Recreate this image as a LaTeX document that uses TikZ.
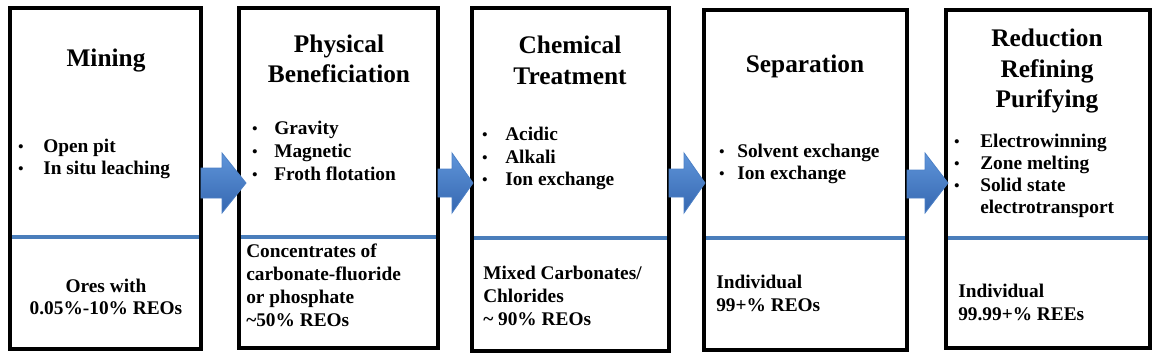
\documentclass[tikz,border=0pt]{standalone}
\usepackage{fontspec}
\setmainfont{Liberation Serif}
\begin{document}
\begin{tikzpicture}[x=0.75pt,y=-0.75pt,
  stagebox/.style={draw=black,line width=3pt},
  divider/.style={draw=divblue,line width=3pt},
  ttl/.style={anchor=base,inner sep=0pt,font=\fontsize{19}{22}\selectfont\bfseries},
  txt/.style={anchor=base west,inner sep=0pt,font=\fontsize{14.5}{17}\selectfont\bfseries},
  ctxt/.style={anchor=base,inner sep=0pt,font=\fontsize{14.5}{17}\selectfont\bfseries},
  dot/.style={anchor=base,inner sep=0pt,font=\fontsize{13}{17}\selectfont},
  blockarrow/.style={draw=arrowedge,line width=0.6pt,top color=arrowtop,bottom color=arrowbot,line join=miter}
]
\definecolor{divblue}{HTML}{4A7EBB}
\definecolor{arrowtop}{HTML}{5F95DA}
\definecolor{arrowbot}{HTML}{3567B0}
\definecolor{arrowedge}{HTML}{4C80C6}
\useasboundingbox (0,0) rectangle (1158,358);

% boxes
\coordinate (b1a) at (10,8);   \coordinate (b1b) at (201,349);
\coordinate (b2a) at (239,8);  \coordinate (b2b) at (438,348);
\coordinate (b3a) at (472,8);  \coordinate (b3b) at (669,351);
\coordinate (b4a) at (704,10); \coordinate (b4b) at (907,350);
\coordinate (b5a) at (946,10); \coordinate (b5b) at (1150,348);

\draw[divider] (10,237) -- (201,237);
\draw[divider] (239,237) -- (438,237);
\draw[divider] (472,238) -- (669,238);
\draw[divider] (704,238) -- (907,238);
\draw[divider] (946,238) -- (1150,238);

\draw[stagebox] (b1a) rectangle (b1b);
\draw[stagebox] (b2a) rectangle (b2b);
\draw[stagebox] (b3a) rectangle (b3b);
\draw[stagebox] (b4a) rectangle (b4b);
\draw[stagebox] (b5a) rectangle (b5b);

% arrows
\draw[blockarrow] (201,168) -- (222,168) -- (222,153) -- (246,183) -- (222,213) -- (222,198) -- (201,198) -- cycle;
\draw[blockarrow] (438,169) -- (452,169) -- (452,153) -- (473,183) -- (452,213) -- (452,197) -- (438,197) -- cycle;
\draw[blockarrow] (669,169) -- (684,169) -- (684,153) -- (705,183) -- (684,213) -- (684,197) -- (669,197) -- cycle;
\draw[blockarrow] (907,170) -- (925,170) -- (925,153) -- (948,183) -- (925,213) -- (925,198) -- (907,198) -- cycle;

% box 1
\node[ttl] (t1) at (106,66) {Mining};
\node[dot] (d1a) at (21,152) {\textbullet};
\node[txt] (l1a) at (43,152) {Open pit};
\node[dot] (d1b) at (21,174) {\textbullet};
\node[txt] (l1b) at (43,174) {In situ leaching};
\node[ctxt] (o1a) at (106,292) {Ores with};
\node[ctxt] (o1b) at (106,314) {0.05\%-10\% REOs};

% box 2
\node[ttl] (t2a) at (339,52) {Physical};
\node[ttl] (t2b) at (339,82) {Beneficiation};
\node[dot] (d2a) at (255,134) {\textbullet};
\node[txt] (l2a) at (274,134) {Gravity};
\node[dot] (d2b) at (255,157) {\textbullet};
\node[txt] (l2b) at (274,157) {Magnetic};
\node[dot] (d2c) at (255,180) {\textbullet};
\node[txt] (l2c) at (274,180) {Froth flotation};
\node[txt] (o2a) at (246,257) {Concentrates of};
\node[txt] (o2b) at (246,280) {carbonate-fluoride};
\node[txt] (o2c) at (246,303) {or phosphate};
\node[txt] (o2d) at (246,326) {\textasciitilde50\% REOs};

% box 3
\node[ttl] (t3a) at (570,53) {Chemical};
\node[ttl] (t3b) at (570,84) {Treatment};
\node[dot] (d3a) at (485,140) {\textbullet};
\node[txt] (l3a) at (505,140) {Acidic};
\node[dot] (d3b) at (485,163) {\textbullet};
\node[txt] (l3b) at (505,163) {Alkali};
\node[dot] (d3c) at (485,185) {\textbullet};
\node[txt] (l3c) at (505,185) {Ion exchange};
\node[txt] (o3a) at (483,279) {Mixed Carbonates/};
\node[txt] (o3b) at (483,302) {Chlorides};
\node[txt] (o3c) at (483,325) {\textasciitilde\ 90\% REOs};

% box 4
\node[ttl] (t4) at (805,72) {Separation};
\node[dot] (d4a) at (722,157) {\textbullet};
\node[txt] (l4a) at (737,157) {Solvent exchange};
\node[dot] (d4b) at (722,179) {\textbullet};
\node[txt] (l4b) at (737,179) {Ion exchange};
\node[txt] (o4a) at (716,288) {Individual};
\node[txt] (o4b) at (716,311) {99+\% REOs};

% box 5
\node[ttl] (t5a) at (1047,46) {Reduction};
\node[ttl] (t5b) at (1047,77) {Refining};
\node[ttl] (t5c) at (1047,107) {Purifying};
\node[dot] (d5a) at (957,147) {\textbullet};
\node[txt] (l5a) at (980,147) {Electrowinning};
\node[dot] (d5b) at (957,169) {\textbullet};
\node[txt] (l5b) at (980,169) {Zone melting};
\node[dot] (d5c) at (957,191) {\textbullet};
\node[txt] (l5c) at (980,191) {Solid state};
\node[txt] (l5d) at (980,213) {electrotransport};
\node[txt] (o5a) at (958,297) {Individual};
\node[txt] (o5b) at (958,320) {99.99+\% REEs};
\end{tikzpicture}
\end{document}
